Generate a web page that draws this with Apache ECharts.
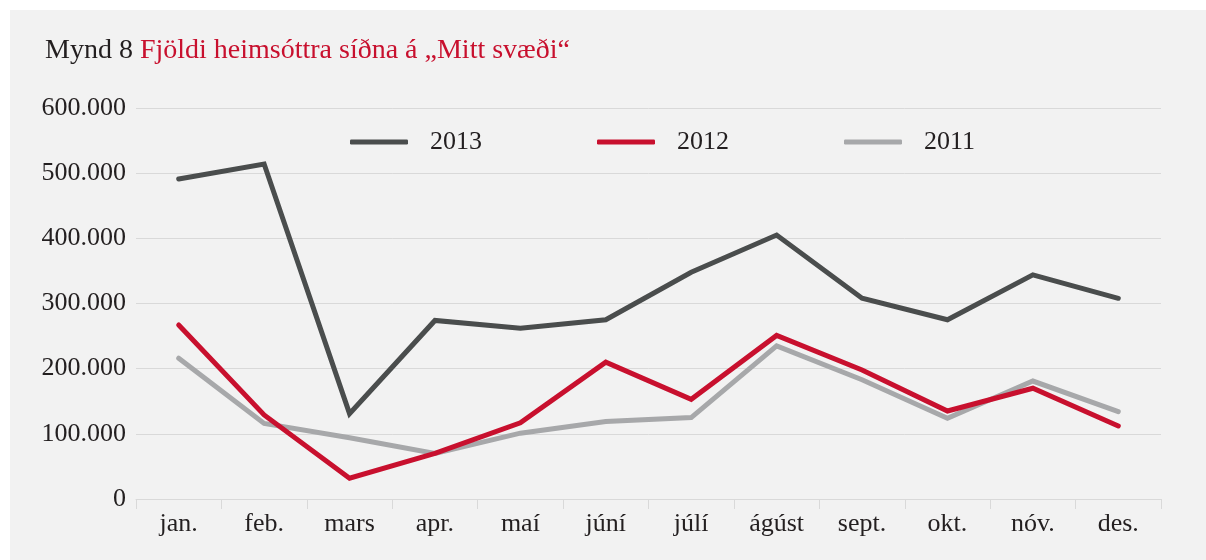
<!DOCTYPE html>
<html>
<head>
<meta charset="utf-8">
<script src="https://cdn.jsdelivr.net/npm/echarts@6/dist/echarts.min.js"></script>
<style>
html,body{margin:0;padding:0;background:#ffffff;}
#chart{position:absolute;left:0;top:0;width:1206px;height:560px;}
</style>
</head>
<body>
<div id="chart"></div>
<script>
var months = ['jan.','feb.','mars','apr.','maí','júní','júlí','ágúst','sept.','okt.','nóv.','des.'];
var s2013 = [491000,514000,131000,274000,262000,275000,348000,405000,308000,275000,344000,308000];
var s2012 = [267000,129000,32000,70000,117000,210000,153000,251000,198000,135000,170000,112000];
var s2011 = [216000,116000,94000,70000,101000,119000,125000,235000,183000,124000,181000,134000];
var seriesNames = ['2013','2012','2011'];
var seriesColors = ['#4a4d4d','#c8102e','#a7a8aa'];
var titlePrefix = 'Mynd 8 ';
var titleText = 'Fjöldi heimsóttra síðna á „Mitt svæði“';

var FONT = '"Liberation Serif", serif';
var chart = echarts.init(document.getElementById('chart'));
var data = [s2013, s2012, s2011];
function fmt(v){
  return String(v).replace(/\B(?=(\d{3})+(?!\d))/g, '.');
}
chart.setOption({
  animation:false,
  graphic:[{type:'rect', z:-10, silent:true, shape:{x:10,y:10,width:1196,height:550}, style:{fill:'#f2f2f2'}}],
  title:{
    left:40, top:32,
    text:'{a|'+titlePrefix+'}{b|'+titleText+'}',
    textStyle:{
      rich:{
        a:{fontFamily:FONT,fontSize:28,fontWeight:'normal',color:'#231f20'},
        b:{fontFamily:FONT,fontSize:28,fontWeight:'normal',color:'#c8102e'}
      }
    }
  },
  legend:{
    top:124, left:345,
    itemWidth:58, itemHeight:5, itemGap:115,
    icon:'roundRect',
    textStyle:{fontFamily:FONT,fontSize:26,color:'#231f20',padding:[0,0,0,17]},
    data:seriesNames
  },
  grid:{left:136,right:45,top:108,bottom:61,containLabel:false},
  xAxis:{
    type:'category', data:months, boundaryGap:true,
    axisLine:{lineStyle:{color:'#d9d9d9',width:1}},
    axisTick:{show:true,length:10,lineStyle:{color:'#d9d9d9',width:1}},
    axisLabel:{fontFamily:FONT,fontSize:26,color:'#231f20',margin:12}
  },
  yAxis:{
    type:'value', min:0, max:600000, interval:100000,
    axisLine:{show:false}, axisTick:{show:false},
    splitLine:{lineStyle:{color:'#d9d9d9',width:1}},
    axisLabel:{fontFamily:FONT,fontSize:26,color:'#231f20',margin:10,formatter:fmt}
  },
  series: seriesNames.map(function(n,i){
    return {
      name:n, type:'line', data:data[i], symbol:'none', showSymbol:false,
      z: 10-i,
      itemStyle:{color:seriesColors[i]},
      lineStyle:{color:seriesColors[i], width:5, cap:'round', join:'miter'}
    };
  })
});
</script>
</body>
</html>
